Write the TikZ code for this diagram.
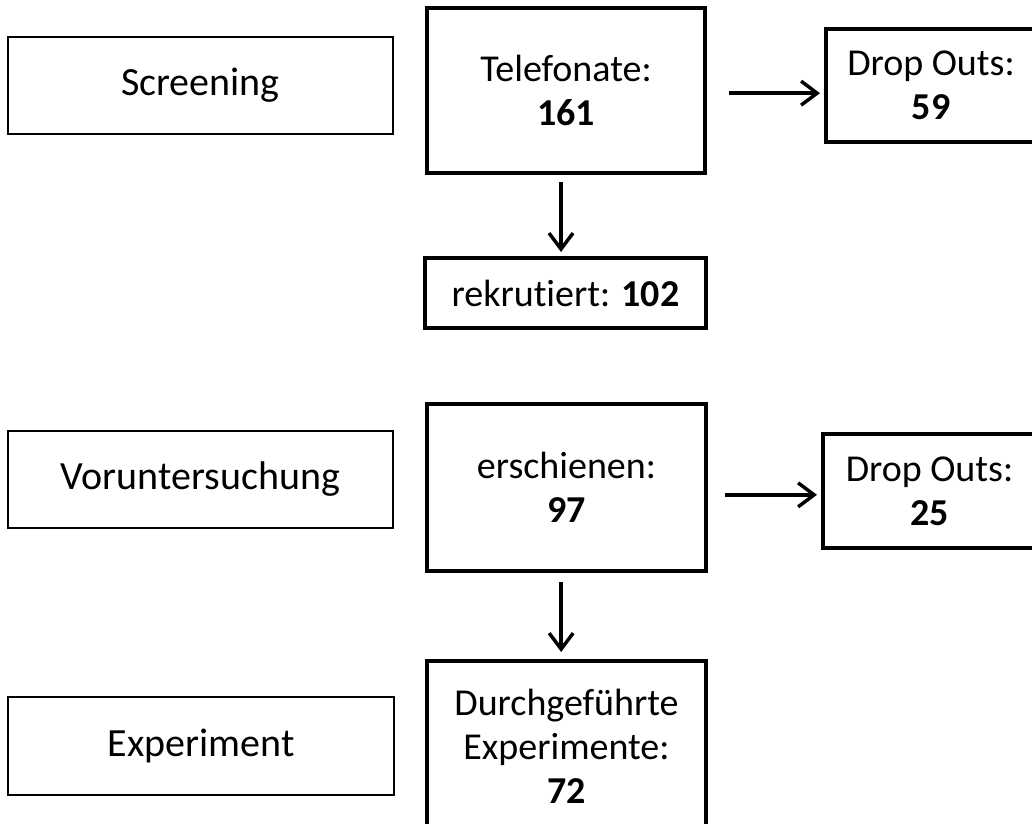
\documentclass[tikz,border=0pt]{standalone}
\usepackage{fontspec}
\setmainfont[Ligatures=NoCommon]{Carlito}
\usetikzlibrary{arrows.meta}
\tikzset{
  stage/.style={draw, line width=1.5pt, inner sep=0pt, align=center,
    font=\fontsize{30}{36}\selectfont},
  count/.style={draw, line width=3pt, inner sep=0pt, align=center,
    font=\fontsize{28.5}{33}\selectfont},
  flow/.style={line width=2.6pt, -{Straight Barb[length=12pt,width=18pt,line width=2.6pt]}}
}
\begin{document}
\begin{tikzpicture}[x=0.75pt,y=-0.75pt]
\useasboundingbox (0,0) rectangle (1032,824);
\clip (0,0) rectangle (1032,824);

% phase labels on the left
\node[stage, minimum width=288.75pt, minimum height=72.75pt] (screen) at (200.5,85.5) {Screening};
\node[stage, minimum width=288.75pt, minimum height=72.75pt] (vor) at (200.5,479.5) {Voruntersuchung};
\node[stage, minimum width=289.5pt, minimum height=73.5pt] (exp) at (201,746) {Experiment};

% counts
\node[count, minimum width=208.5pt, minimum height=123.75pt] (tel) at (566,90.5) {Telefonate:\\\textbf{161}};
\node[count, minimum width=157.5pt, minimum height=84.75pt] (drop1) at (931,85.5) {Drop Outs:\\\textbf{59}};
\node[count, minimum width=210.75pt, minimum height=52.5pt] (rek) at (565.5,293) {rekrutiert: \textbf{102}};
\node[count, minimum width=209.25pt, minimum height=125.25pt] (ersch) at (566.5,487.5) {erschienen:\\\textbf{97}};
\node[count, minimum width=159.75pt, minimum height=85.5pt] (drop2) at (929.5,491) {Drop Outs:\\\textbf{25}};
\node[count, minimum width=209.25pt, minimum height=128.25pt] (durch) at (566.5,746.5) {Durchgeführte\\Experimente:\\\textbf{72}};

% connectors
\draw[flow, shorten <=16.5pt, shorten >=3pt] ([yshift=-2pt]tel.east) -- ([yshift=-2pt]tel.east -| drop1.west);
\draw[flow, shorten <=5.25pt, shorten >=3pt] ([xshift=-3.75pt]tel.south) -- ([xshift=-3.75pt]tel.south |- rek.north);
\draw[flow, shorten <=12.75pt, shorten >=3pt] ([yshift=-5.5pt]ersch.east) -- ([yshift=-5.5pt]ersch.east -| drop2.west);
\draw[flow, shorten <=6.75pt, shorten >=5.25pt] ([xshift=-4pt]ersch.south) -- ([xshift=-4pt]ersch.south |- durch.north);
\end{tikzpicture}
\end{document}
